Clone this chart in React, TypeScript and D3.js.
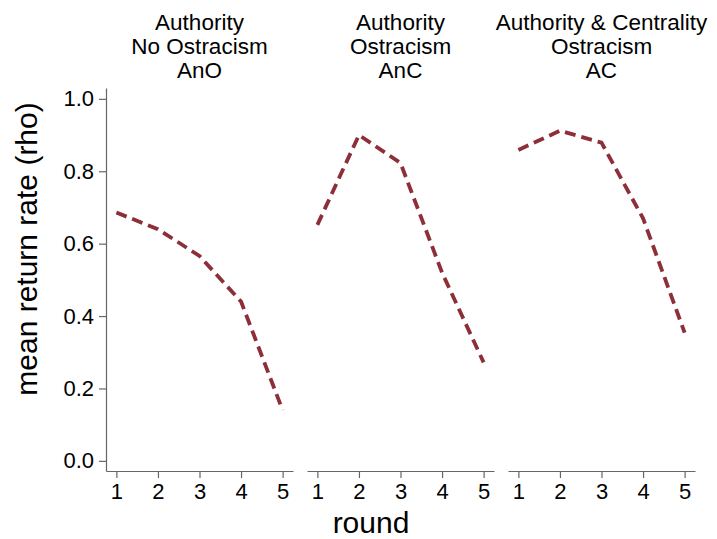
import { useEffect, useRef } from "react";
import * as d3 from "d3";

const rounds = [1, 2, 3, 4, 5];
const yTicks = [0, 0.2, 0.4, 0.6, 0.8, 1.0];
const panelTitles = [
  ["Authority", "No Ostracism", "AnO"],
  ["Authority", "Ostracism", "AnC"],
  ["Authority & Centrality", "Ostracism", "AC"],
];
const anoValues = [0.686, 0.64, 0.566, 0.44, 0.14];
const ancValues = [0.652, 0.9, 0.823, 0.52, 0.272];
const acValues = [0.859, 0.912, 0.879, 0.67, 0.354];
const seriesByPanel = [anoValues, ancValues, acValues];

const FONT = "'Liberation Sans', Arial, Helvetica, sans-serif";

export default function App() {
  const svgRef = useRef<SVGSVGElement>(null);

  useEffect(() => {
    const el = svgRef.current;
    if (!el) return;
    const W = 717;
    const H = 539;
    const left = 106;
    const panelW = 187;
    const gap = 14;
    const bottom = 471;
    const top = 88;

    d3.select(el).selectAll("*").remove();
    const svg = d3.select(el).attr("width", W).attr("height", H);

    const y = d3.scaleLinear().domain([-0.028, 1.03]).range([bottom, top]);

    // y axis (first panel only)
    svg.append("g")
      .attr("transform", `translate(${left},0)`)
      .call(d3.axisLeft(y).tickValues(yTicks).tickSize(7).tickSizeOuter(0).tickPadding(5).tickFormat(d3.format(".1f")))
      .call(ax => ax.select(".domain").attr("stroke", "#666").attr("stroke-width", 1.2))
      .call(ax => ax.selectAll("line").attr("stroke", "#666").attr("stroke-width", 1.2))
      .call(ax => ax.selectAll("text").attr("fill", "#000").attr("font-size", "22px").attr("font-family", FONT));

    seriesByPanel.forEach((vals, p) => {
      const x0 = left + p * (panelW + gap);
      const x = d3.scaleLinear().domain([0.75, 5.25]).range([x0, x0 + panelW]);

      svg.append("g")
        .attr("transform", `translate(0,${bottom})`)
        .call(d3.axisBottom(x).tickValues(rounds).tickSize(7).tickSizeOuter(0).tickPadding(5).tickFormat(d3.format("d")))
        .call(ax => ax.select(".domain").attr("stroke", "#666").attr("stroke-width", 1.2))
        .call(ax => ax.selectAll("line").attr("stroke", "#666").attr("stroke-width", 1.2))
        .call(ax => ax.selectAll("text").attr("fill", "#000").attr("font-size", "22px").attr("font-family", FONT));

      const line = d3.line<number>().x((d, i) => x(rounds[i])).y(d => y(d));
      svg.append("path")
        .datum(vals)
        .attr("fill", "none")
        .attr("stroke", "#8c2f39")
        .attr("stroke-width", 3.8)
        .attr("stroke-dasharray", "11,6")
        .attr("d", line);

      const t = svg.append("text")
        .attr("x", x0 + panelW / 2)
        .attr("text-anchor", "middle")
        .attr("font-size", "22.5px")
        .attr("font-family", FONT)
        .attr("fill", "#000");
      panelTitles[p].forEach((s, i) => {
        t.append("tspan").attr("x", x0 + panelW / 2).attr("y", 30 + i * 24).text(s);
      });
    });

    svg.append("text")
      .attr("transform", `translate(37,249) rotate(-90)`)
      .attr("text-anchor", "middle")
      .attr("font-size", "30px")
      .attr("font-family", FONT)
      .attr("fill", "#000")
      .text("mean return rate (rho)");

    svg.append("text")
      .attr("x", 371)
      .attr("y", 533)
      .attr("text-anchor", "middle")
      .attr("font-size", "30px")
      .attr("font-family", FONT)
      .attr("fill", "#000")
      .text("round");
  }, []);

  return (
    <div style={{ position: "absolute", left: 0, top: 0, width: 717, height: 539, background: "#fff" }}>
      <svg ref={svgRef} style={{ display: "block" }} />
    </div>
  );
}
